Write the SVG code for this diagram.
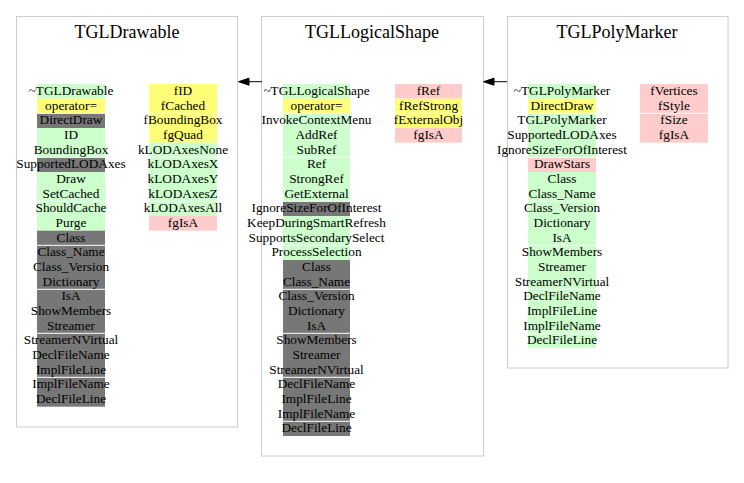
<svg xmlns="http://www.w3.org/2000/svg" width="744" height="483" viewBox="0 0 744 483">
<style>
.frame{fill:#ffffff;stroke:#cccccc;stroke-width:1}
.title{font-family:"Liberation Serif","Times New Roman",serif;font-size:18px;text-anchor:middle;fill:#000}
.t{font-family:"Liberation Serif","Times New Roman",serif;font-size:13.3px;text-anchor:middle;fill:#000}
.g{fill:#ccffcc}
.y{fill:#ffff77}
.d{fill:#777777}
.p{fill:#ffcccc}
.sep{fill:#ffffff}
.edge{stroke:#000;stroke-width:1;fill:none}
.head{fill:#000;stroke:#000}
</style>
<rect width="744" height="483" fill="#ffffff"/>
<g id="TGLDrawable">
<rect class="frame" x="16.5" y="16.5" width="221" height="410.5"/>
<text class="title" x="127" y="38">TGLDrawable</text>
<rect class="g" x="37" y="84" width="68" height="14.667"/>
<rect class="y" x="37" y="98.667" width="68" height="14.667"/>
<rect class="d" x="37" y="113.333" width="68" height="14.667"/>
<rect class="g" x="37" y="128" width="68" height="29.333"/>
<rect class="d" x="37" y="157.333" width="68" height="14.667"/>
<rect class="g" x="37" y="172" width="68" height="58.667"/>
<rect class="d" x="37" y="230.667" width="68" height="176"/>
<rect class="sep" x="37" y="112.8" width="68" height="1"/>
<rect class="sep" x="37" y="156.8" width="68" height="1"/>
<rect class="sep" x="37" y="200.8" width="68" height="1"/>
<rect class="sep" x="37" y="244.8" width="68" height="1"/>
<rect class="sep" x="37" y="288.8" width="68" height="1"/>
<rect class="sep" x="37" y="332.8" width="68" height="1"/>
<rect class="sep" x="37" y="376.8" width="68" height="1"/>
<text class="t" x="71" y="95">~TGLDrawable</text>
<text class="t" x="71" y="109.67">operator=</text>
<text class="t" x="71" y="124.33">DirectDraw</text>
<text class="t" x="71" y="139">ID</text>
<text class="t" x="71" y="153.67">BoundingBox</text>
<text class="t" x="71" y="168.33">SupportedLODAxes</text>
<text class="t" x="71" y="183">Draw</text>
<text class="t" x="71" y="197.67">SetCached</text>
<text class="t" x="71" y="212.33">ShouldCache</text>
<text class="t" x="71" y="227">Purge</text>
<text class="t" x="71" y="241.67">Class</text>
<text class="t" x="71" y="256.33">Class_Name</text>
<text class="t" x="71" y="271">Class_Version</text>
<text class="t" x="71" y="285.67">Dictionary</text>
<text class="t" x="71" y="300.33">IsA</text>
<text class="t" x="71" y="315">ShowMembers</text>
<text class="t" x="71" y="329.67">Streamer</text>
<text class="t" x="71" y="344.33">StreamerNVirtual</text>
<text class="t" x="71" y="359">DeclFileName</text>
<text class="t" x="71" y="373.67">ImplFileLine</text>
<text class="t" x="71" y="388.33">ImplFileName</text>
<text class="t" x="71" y="403">DeclFileLine</text>
<rect class="y" x="149" y="84" width="68" height="58.667"/>
<rect class="g" x="149" y="142.667" width="68" height="73.333"/>
<rect class="p" x="149" y="216" width="68" height="14.667"/>
<rect class="sep" x="149" y="112.8" width="68" height="1"/>
<rect class="sep" x="149" y="156.8" width="68" height="1"/>
<rect class="sep" x="149" y="200.8" width="68" height="1"/>
<text class="t" x="183" y="95">fID</text>
<text class="t" x="183" y="109.67">fCached</text>
<text class="t" x="183" y="124.33">fBoundingBox</text>
<text class="t" x="183" y="139">fgQuad</text>
<text class="t" x="183" y="153.67">kLODAxesNone</text>
<text class="t" x="183" y="168.33">kLODAxesX</text>
<text class="t" x="183" y="183">kLODAxesY</text>
<text class="t" x="183" y="197.67">kLODAxesZ</text>
<text class="t" x="183" y="212.33">kLODAxesAll</text>
<text class="t" x="183" y="227">fgIsA</text>
</g>
<g id="TGLLogicalShape">
<rect class="frame" x="261.5" y="16.5" width="222" height="439.5"/>
<text class="title" x="372" y="38">TGLLogicalShape</text>
<rect class="g" x="283" y="84" width="67" height="14.667"/>
<rect class="y" x="283" y="98.667" width="67" height="14.667"/>
<rect class="g" x="283" y="113.333" width="67" height="88"/>
<rect class="d" x="283" y="201.333" width="67" height="14.667"/>
<rect class="g" x="283" y="216" width="67" height="44"/>
<rect class="d" x="283" y="260" width="67" height="176"/>
<rect class="sep" x="283" y="112.8" width="67" height="1"/>
<rect class="sep" x="283" y="156.8" width="67" height="1"/>
<rect class="sep" x="283" y="200.8" width="67" height="1"/>
<rect class="sep" x="283" y="244.8" width="67" height="1"/>
<rect class="sep" x="283" y="288.8" width="67" height="1"/>
<rect class="sep" x="283" y="332.8" width="67" height="1"/>
<rect class="sep" x="283" y="376.8" width="67" height="1"/>
<rect class="sep" x="283" y="420.8" width="67" height="1"/>
<text class="t" x="316.5" y="95">~TGLLogicalShape</text>
<text class="t" x="316.5" y="109.67">operator=</text>
<text class="t" x="316.5" y="124.33">InvokeContextMenu</text>
<text class="t" x="316.5" y="139">AddRef</text>
<text class="t" x="316.5" y="153.67">SubRef</text>
<text class="t" x="316.5" y="168.33">Ref</text>
<text class="t" x="316.5" y="183">StrongRef</text>
<text class="t" x="316.5" y="197.67">GetExternal</text>
<text class="t" x="316.5" y="212.33">IgnoreSizeForOfInterest</text>
<text class="t" x="316.5" y="227">KeepDuringSmartRefresh</text>
<text class="t" x="316.5" y="241.67">SupportsSecondarySelect</text>
<text class="t" x="316.5" y="256.33">ProcessSelection</text>
<text class="t" x="316.5" y="271">Class</text>
<text class="t" x="316.5" y="285.67">Class_Name</text>
<text class="t" x="316.5" y="300.33">Class_Version</text>
<text class="t" x="316.5" y="315">Dictionary</text>
<text class="t" x="316.5" y="329.67">IsA</text>
<text class="t" x="316.5" y="344.33">ShowMembers</text>
<text class="t" x="316.5" y="359">Streamer</text>
<text class="t" x="316.5" y="373.67">StreamerNVirtual</text>
<text class="t" x="316.5" y="388.33">DeclFileName</text>
<text class="t" x="316.5" y="403">ImplFileLine</text>
<text class="t" x="316.5" y="417.67">ImplFileName</text>
<text class="t" x="316.5" y="432.33">DeclFileLine</text>
<rect class="p" x="395" y="84" width="67" height="14.667"/>
<rect class="y" x="395" y="98.667" width="67" height="29.333"/>
<rect class="p" x="395" y="128" width="67" height="14.667"/>
<rect class="sep" x="395" y="112.8" width="67" height="1"/>
<text class="t" x="428.5" y="95">fRef</text>
<text class="t" x="428.5" y="109.67">fRefStrong</text>
<text class="t" x="428.5" y="124.33">fExternalObj</text>
<text class="t" x="428.5" y="139">fgIsA</text>
</g>
<g id="TGLPolyMarker">
<rect class="frame" x="507.5" y="16.5" width="220.5" height="351.5"/>
<text class="title" x="617" y="38">TGLPolyMarker</text>
<rect class="g" x="528" y="84" width="68" height="14.667"/>
<rect class="y" x="528" y="98.667" width="68" height="14.667"/>
<rect class="g" x="528" y="113.333" width="68" height="44"/>
<rect class="p" x="528" y="157.333" width="68" height="14.667"/>
<rect class="g" x="528" y="172" width="68" height="176"/>
<rect class="sep" x="528" y="112.8" width="68" height="1"/>
<rect class="sep" x="528" y="156.8" width="68" height="1"/>
<rect class="sep" x="528" y="200.8" width="68" height="1"/>
<rect class="sep" x="528" y="244.8" width="68" height="1"/>
<rect class="sep" x="528" y="288.8" width="68" height="1"/>
<rect class="sep" x="528" y="332.8" width="68" height="1"/>
<text class="t" x="562" y="95">~TGLPolyMarker</text>
<text class="t" x="562" y="109.67">DirectDraw</text>
<text class="t" x="562" y="124.33">TGLPolyMarker</text>
<text class="t" x="562" y="139">SupportedLODAxes</text>
<text class="t" x="562" y="153.67">IgnoreSizeForOfInterest</text>
<text class="t" x="562" y="168.33">DrawStars</text>
<text class="t" x="562" y="183">Class</text>
<text class="t" x="562" y="197.67">Class_Name</text>
<text class="t" x="562" y="212.33">Class_Version</text>
<text class="t" x="562" y="227">Dictionary</text>
<text class="t" x="562" y="241.67">IsA</text>
<text class="t" x="562" y="256.33">ShowMembers</text>
<text class="t" x="562" y="271">Streamer</text>
<text class="t" x="562" y="285.67">StreamerNVirtual</text>
<text class="t" x="562" y="300.33">DeclFileName</text>
<text class="t" x="562" y="315">ImplFileLine</text>
<text class="t" x="562" y="329.67">ImplFileName</text>
<text class="t" x="562" y="344.33">DeclFileLine</text>
<rect class="p" x="640" y="84" width="68" height="58.667"/>
<rect class="sep" x="640" y="112.8" width="68" height="1"/>
<text class="t" x="674" y="95">fVertices</text>
<text class="t" x="674" y="109.67">fStyle</text>
<text class="t" x="674" y="124.33">fSize</text>
<text class="t" x="674" y="139">fgIsA</text>
</g>
<g id="connectors">
<line class="edge" x1="262" y1="81.7" x2="249" y2="81.7"/>
<polygon class="head" points="238.5,81.7 249,78.2 249,85.2"/>
<line class="edge" x1="507" y1="81.7" x2="494" y2="81.7"/>
<polygon class="head" points="483.5,81.7 494,78.2 494,85.2"/>
</g>
</svg>
